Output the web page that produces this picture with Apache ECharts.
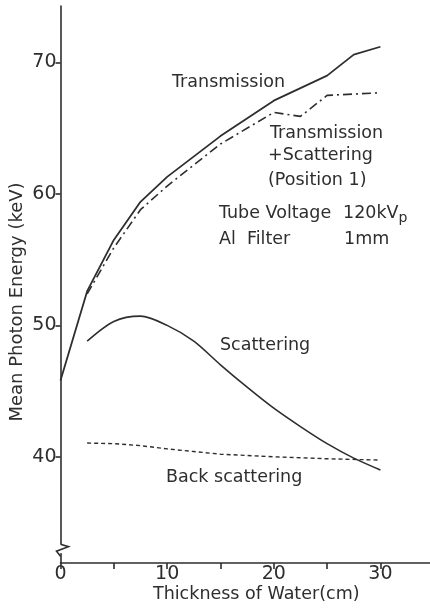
<!DOCTYPE html>
<html><head><meta charset="utf-8">
<script src="https://cdn.jsdelivr.net/npm/echarts@6/dist/echarts.min.js"></script>
<style>html,body{margin:0;padding:0;background:#fff}#c{width:430px;height:613px}</style>
</head><body><div id="c"></div>
<script>
// Data
const transThickness = [0, 2.5, 5, 7.5, 10, 15, 20, 25, 27.5, 30];
const transmission   = [45.8, 52.6, 56.5, 59.4, 61.3, 64.4, 67.1, 69.0, 70.6, 71.2];
const tsThickness    = [2.5, 5, 7.5, 10, 15, 20, 22.5, 25, 27.5, 30];
const transScatter   = [52.4, 55.9, 58.8, 60.6, 63.8, 66.2, 65.9, 67.5, 67.6, 67.7];
const scatThickness  = [2.5, 5, 7.5, 10, 12.5, 15, 17.5, 20, 22.5, 25, 27.5, 30];
const scattering     = [48.8, 50.3, 50.7, 50.0, 48.8, 47.0, 45.3, 43.7, 42.3, 41.0, 39.9, 39.0];
const backThickness  = [2.5, 5, 7.5, 10, 12.5, 15, 20, 25, 30];
const backScattering = [41.05, 41.0, 40.85, 40.6, 40.4, 40.2, 40.0, 39.85, 39.75];
const xTickValues  = [0, 5, 10, 15, 20, 25, 30];
const xLabelValues = [0, 10, 20, 30];
const yTickValues  = [40, 50, 60, 70];
const xName = 'Thickness of Water(cm)';
const yName = 'Mean Photon Energy (keV)';

const zip = (xs, ys) => xs.map((x, i) => [x, ys[i]]);
const INK = '#2e2e2e';
const FONT = 'DejaVu Sans';

const chart = echarts.init(document.getElementById('c'), null, {renderer: 'canvas'});
const txt = (text, x, y, extra) => ({
  type: 'text', x: x, y: y, z: 10,
  style: Object.assign({text: text, fill: INK, font: '17.5px "DejaVu Sans"', verticalAlign: 'middle', align: 'left'}, extra || {})
});

chart.setOption({
  animation: false,
  backgroundColor: '#fff',
  grid: {left: 60.5, right: 0, top: 6, bottom: 50, containLabel: false, outerBoundsMode: 'none'},
  xAxis: {
    type: 'value', min: 0, max: 34.65,
    axisLine: {show: true, lineStyle: {color: INK, width: 1.6}},
    axisTick: {show: true, inside: false, length: 6, customValues: xTickValues, lineStyle: {color: INK, width: 1.6}},
    axisLabel: {customValues: xLabelValues, color: INK, fontFamily: FONT, fontSize: 19, margin: 2},
    splitLine: {show: false},
    name: xName, nameLocation: 'middle', nameGap: 22, nameMoveOverlap: false,
    nameTextStyle: {color: INK, fontFamily: FONT, fontSize: 17.5, padding: [0, 0, 0, 22]}
  },
  yAxis: {
    type: 'value', min: 31.92, max: 74.3,
    axisLine: {show: true, lineStyle: {color: INK, width: 1.6}},
    axisTick: {show: true, inside: false, length: 5, customValues: yTickValues, lineStyle: {color: INK, width: 1.6}},
    axisLabel: {customValues: yTickValues, color: INK, fontFamily: FONT, fontSize: 19, margin: 4},
    splitLine: {show: false},
    name: yName, nameLocation: 'middle', nameGap: 34, nameRotate: 90, nameMoveOverlap: false,
    nameTextStyle: {color: INK, fontFamily: FONT, fontSize: 18, padding: [0, 35, 0, 0]}
  },
  series: [
    {name: 'Transmission', type: 'line', data: zip(transThickness, transmission), showSymbol: false,
     lineStyle: {color: INK, width: 1.8}},
    {name: 'Transmission + Scattering', type: 'line', data: zip(tsThickness, transScatter), showSymbol: false,
     lineStyle: {color: INK, width: 1.6, type: [9, 4, 2, 4]}},
    {name: 'Scattering', type: 'line', data: zip(scatThickness, scattering), showSymbol: false, smooth: 0.3,
     lineStyle: {color: INK, width: 1.6}},
    {name: 'Back scattering', type: 'line', data: zip(backThickness, backScattering), showSymbol: false,
     lineStyle: {color: INK, width: 1.4, type: [4, 3]}}
  ]
});

// Annotations and axis break symbol
const brk = chart.convertToPixel({gridIndex: 0}, [0, 33.05]);
const bx = brk[0], by = brk[1];
chart.setOption({
  graphic: [
    txt('Transmission', 172, 82),
    txt('Transmission', 270, 133),
    txt('+Scattering', 268, 155.5),
    txt('(Position 1)', 268, 180),
    txt('Tube Voltage', 219, 213),
    {type: 'text', x: 343, y: 213, z: 10, style: {
      text: '120kV{s|p}', fill: INK, font: '17.5px "DejaVu Sans"', verticalAlign: 'middle',
      rich: {s: {fontSize: 14, fontFamily: FONT, fill: INK, verticalAlign: 'bottom', padding: [10, 0, 0, 0]}}}},
    txt('Al  Filter', 219, 239),
    txt('1mm', 344, 239),
    txt('Scattering', 220, 345.5),
    txt('Back scattering', 166, 477),
    {type: 'rect', z: 20, shape: {x: bx - 2, y: by - 4, width: 4, height: 9}, style: {fill: '#fff'}},
    {type: 'polyline', z: 21, shape: {points: [[bx, by - 4], [bx + 8, by - 1.5], [bx - 4, by + 3], [bx, by + 8]]},
     style: {stroke: INK, lineWidth: 1.6, fill: null}}
  ]
});
</script>
</body></html>
